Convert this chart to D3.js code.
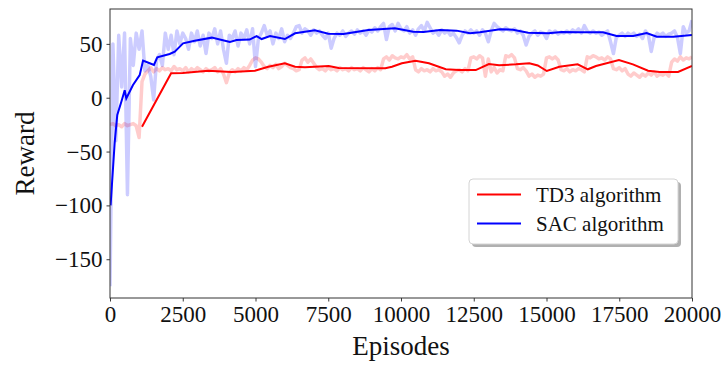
<!DOCTYPE html>
<html>
<head>
<meta charset="utf-8">
<script src="https://cdn.jsdelivr.net/npm/d3@7"></script>
<style>
  body { margin: 0; background: #fff; }
  svg text { font-family: "Liberation Serif", "DejaVu Serif", serif; fill: #111; }
</style>
</head>
<body>
<div id="chart"></div>
<script>
// raw rewards, one value every 100 episodes
var rawStep = 100;
var td3Raw = [-25, -24, -26, -25, -27, -24, -26, -25, -24, -26,
  -37, 15, 22, 25, 28, 24, 27, 25, 28, 26,
  27, 25, 29, 26, 27, 25, 28, 24, 27, 25,
  28, 26, 24, 27, 25, 26, 28, 24, 27, 22,
  14, 23, 26, 24, 27, 25, 28, 26, 30, 35,
  37, 36, 33, 29, 27, 30, 28, 31, 27, 29,
  32, 30, 28, 27, 25, 26, 35, 37, 33, 36,
  32, 28, 26, 27, 25, 28, 26, 27, 25, 28,
  26, 27, 25, 28, 26, 27, 25, 28, 26, 24,
  27, 25, 28, 26, 36, 38, 35, 39, 37, 36,
  38, 37, 40, 36, 38, 26, 24, 27, 25, 26,
  24, 27, 25, 26, 24, 20, 22, 19, 23, 25,
  26, 24, 27, 25, 37, 38, 36, 39, 37, 20,
  36, 24, 28, 23, 26, 25, 39, 38, 40, 37,
  27, 26, 28, 25, 20, 22, 19, 21, 20, 22,
  37, 38, 36, 38, 35, 26, 25, 27, 24, 26,
  25, 27, 26, 24, 38, 37, 39, 38, 36, 37,
  35, 38, 36, 27, 26, 28, 25, 27, 22, 20,
  23, 21, 19, 22, 20, 23, 21, 24, 20, 22,
  21, 23, 20, 33, 36, 34, 38, 35, 37, 36, 38];

var sacRaw = [-175, 50, -40, 58, 10, 60, -90, 55, 30, 60,
  45, 62, 25, 30, 20, -2, 35, 40, 30, 60,
  45, 58, 40, 62, 50, 60, 55, 45, 60, 52,
  62, 48, 58, 41, 60, 55, 64, 50, 62, 45,
  32, 58, 55, 62, 48, 60, 55, 63, 50, 64,
  29, 55, 60, 67, 58, 62, 50, 60, 55, 64,
  52, 58, 55, 60, 66, 67, 60, 64, 62, 58,
  63, 60, 62, 58, 55, 60, 46, 55, 60, 58,
  62, 57, 60, 62, 59, 63, 60, 62, 58, 63,
  61, 65, 62, 66, 69, 54, 66, 68, 62, 69,
  64, 62, 66, 60, 63, 58, 64, 67, 62, 70,
  65, 60, 62, 58, 63, 60, 62, 58, 60, 56,
  51, 58, 62, 60, 63, 60, 62, 58, 63, 60,
  52, 62, 69, 66, 64, 62, 65, 63, 62, 64,
  60, 62, 58, 49, 57, 60, 62, 58, 61, 60,
  55, 62, 60, 62, 59, 61, 60, 62, 60, 63,
  61, 64, 60, 67, 62, 60, 62, 60, 61, 58,
  60, 62, 52, 41, 56, 58, 60, 57, 60, 58,
  60, 57, 59, 55, 62, 58, 43, 56, 60, 58,
  60, 57, 59, 60, 62, 56, 41, 66, 60, 62, 72];

// smoothed curves
var td3SmoothEp = [1100, 2100, 2500, 3370, 4180, 4980, 5440, 6010, 6360, 6700, 7515, 7860,
  9460, 9690, 10030, 10500, 10960, 11540, 11990, 12570, 13020, 13370, 13950, 14410,
  14700, 15010, 15440, 16070, 16420, 16700, 17490, 17970, 18490, 18890, 19520, 20000];
var td3SmoothVal = [-27, 22.7, 23, 25, 23.9, 25, 28.8, 32, 28.8, 28.2, 29.5, 27.6,
  27.3, 28.8, 32, 34.4, 32, 26.4, 25.7, 25.7, 31.3, 30.1, 31, 32,
  30, 24.8, 28.8, 31, 26.4, 29.5, 35, 31, 25.1, 23.9, 23.9, 29.5];

var sacSmoothEp = [20, 160, 250, 390, 505, 560, 790, 1020, 1135, 1365, 1510, 1625,
  2050, 2225, 2510, 2910, 3500, 4120, 4350, 4800, 5040, 5210, 5500, 6010, 6360,
  7040, 7500, 8020, 8880, 9790, 10420, 10770, 11340, 11910, 12370, 12710, 13400,
  13850, 14370, 15060, 15520, 16150, 16940, 17410, 17980, 18440, 18790, 19360, 20000];
var sacSmoothVal = [-100, -42, -16, -3.7, 7, -0.6, 11.8, 21, 34.4, 32, 30.4, 37.5,
  40.6, 42.8, 50.5, 53, 55.8, 51.8, 53.6, 54, 57.3, 54.5, 57.3, 54.5, 59.8,
  62.6, 59.5, 59.2, 62.9, 64.5, 61.3, 61, 62.9, 62.3, 59.8, 60.8, 63.6,
  63.2, 60.4, 59.8, 61, 60.8, 60.8, 57.3, 57.3, 60.1, 56.7, 56.7, 58.3];

var xTicks = [0, 2500, 5000, 7500, 10000, 12500, 15000, 17500, 20000];
var yTicks = [-150, -100, -50, 0, 50];
var legendNames = ["TD3 algorithm", "SAC algorithm"];

var svgWidth = 724;
var svgHeight = 365;
var margin = { top: 9, right: 32, bottom: 67, left: 110 };
var width = svgWidth - margin.left - margin.right;
var height = svgHeight - margin.top - margin.bottom;

var svg = d3.select("#chart")
  .append("svg")
  .attr("width", svgWidth)
  .attr("height", svgHeight);

var chart = svg.append("g")
  .attr("transform", `translate(${margin.left}, ${margin.top})`);

var x = d3.scaleLinear().domain([0, 20000]).range([0, width]);
var y = d3.scaleLinear().domain([-186, 82.4]).range([height, 0]);

svg.append("defs").append("clipPath").attr("id", "clip")
  .append("rect").attr("width", width).attr("height", height);

var plot = chart.append("g").attr("clip-path", "url(#clip)");

var rawLine = d3.line()
  .x(function (d, i) { return x(i * rawStep); })
  .y(function (d) { return y(d); });

plot.append("path").datum(td3Raw)
  .attr("d", rawLine)
  .attr("fill", "none")
  .attr("stroke", "rgba(255,0,0,0.2)")
  .attr("stroke-width", 3.5)
  .attr("stroke-linejoin", "round");

plot.append("path").datum(sacRaw)
  .attr("d", rawLine)
  .attr("fill", "none")
  .attr("stroke", "rgba(0,0,255,0.2)")
  .attr("stroke-width", 3.5)
  .attr("stroke-linejoin", "round");

function smoothLine(eps) {
  return d3.line()
    .x(function (d, i) { return x(eps[i]); })
    .y(function (d) { return y(d); });
}

plot.append("path").datum(td3SmoothVal)
  .attr("d", smoothLine(td3SmoothEp))
  .attr("fill", "none")
  .attr("stroke", "#ff0000")
  .attr("stroke-width", 2);

plot.append("path").datum(sacSmoothVal)
  .attr("d", smoothLine(sacSmoothEp))
  .attr("fill", "none")
  .attr("stroke", "#0000ff")
  .attr("stroke-width", 2);

// axes
var fmt = function (d) { return d < 0 ? "\u2212" + Math.abs(d) : "" + d; };

var bottomAxis = d3.axisBottom(x).tickValues(xTicks).tickFormat(fmt).tickSizeOuter(0).tickSize(3.5).tickPadding(4);
var leftAxis = d3.axisLeft(y).tickValues(yTicks).tickFormat(fmt).tickSizeOuter(0).tickSize(3.5).tickPadding(4);

var gx = chart.append("g").attr("transform", `translate(0, ${height})`).call(bottomAxis);
var gy = chart.append("g").call(leftAxis);

[gx, gy].forEach(function (g) {
  g.attr("font-family", null).attr("font-size", null);
  g.select(".domain").remove();
  g.selectAll("line").attr("stroke", "#222").attr("stroke-width", 0.9);
  g.selectAll("text").attr("font-size", 23)
    .attr("font-family", "Liberation Serif").attr("fill", "#111");
});
gy.selectAll("text").attr("dy", "0.33em");

chart.append("rect")
  .attr("width", width).attr("height", height)
  .attr("fill", "none").attr("stroke", "#333").attr("stroke-width", 1);

// axis titles
chart.append("text")
  .attr("x", width / 2).attr("y", height + 57)
  .attr("text-anchor", "middle").attr("font-size", 27)
  .text("Episodes");

chart.append("text")
  .attr("transform", "rotate(-90)")
  .attr("x", -height / 2).attr("y", -76)
  .attr("text-anchor", "middle").attr("font-size", 27)
  .text("Reward");

// legend
var lg = chart.append("g").attr("transform", `translate(${469 - margin.left}, ${179 - margin.top})`);
lg.append("rect").attr("x", 3).attr("y", 3).attr("width", 209).attr("height", 65)
  .attr("rx", 4).attr("fill", "#b0b0b0");
lg.append("rect").attr("width", 209).attr("height", 65)
  .attr("rx", 4).attr("fill", "#fff").attr("stroke", "#d4d4d4");

var legendColors = ["#ff0000", "#0000ff"];
legendNames.forEach(function (name, i) {
  var yy = 15.5 + i * 29;
  lg.append("line").attr("x1", 8).attr("x2", 52).attr("y1", yy).attr("y2", yy)
    .attr("stroke", legendColors[i]).attr("stroke-width", 2);
  lg.append("text").attr("x", 67).attr("y", yy).attr("dy", "0.35em")
    .attr("font-size", 21).text(name);
});
</script>
</body>
</html>
